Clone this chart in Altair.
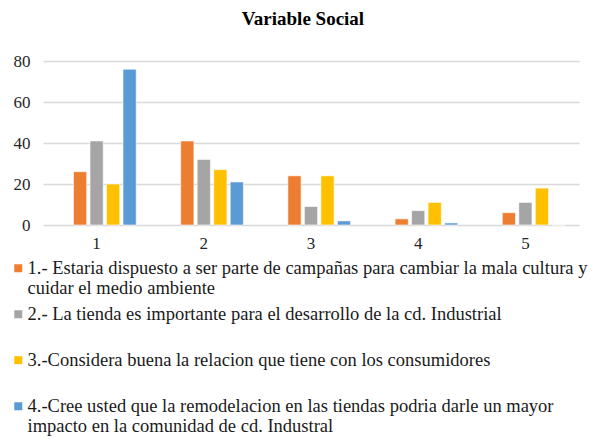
import altair as alt
import pandas as pd

groups = ["1", "2", "3", "4", "5"]
series = [
    "1.-  Estaria dispuesto a ser parte de campañas para cambiar la mala cultura y|cuidar el medio ambiente",
    "2.- La  tienda es importante para el desarrollo de la cd. Industrial| ",
    "3.-Considera buena la relacion que tiene con los consumidores| ",
    "4.-Cree usted que la remodelacion en las tiendas podria darle un mayor|impacto en la comunidad de cd. Industral",
]
values = [
    [26, 41, 24, 3, 6],
    [41, 32, 9, 7, 11],
    [20, 27, 24, 11, 18],
    [76, 21, 2, 1, 0],
]
colors = ["#ED7D31", "#A5A5A5", "#FFC000", "#5B9BD5"]
y_ticks = [0, 20, 40, 60, 80]
# the source chart reserves an empty first slot in every group
offset_slots = ["(vacío)"] + series

rows = []
for si, s in enumerate(series):
    for gi, g in enumerate(groups):
        rows.append({"grupo": g, "serie": s, "valor": values[si][gi]})
df = pd.DataFrame(rows)

FONT = "Liberation Serif"

chart = alt.Chart(df).mark_bar(stroke="white", strokeWidth=0.6).encode(
    x=alt.X("grupo:N", sort=groups, title=None,
            scale=alt.Scale(paddingInner=0.23, paddingOuter=0.115),
            axis=alt.Axis(labelAngle=0, ticks=False, domain=False, labelPadding=10,
                          labelFont=FONT, labelFontSize=17, labelColor="#262626")),
    xOffset=alt.XOffset("serie:N",
                        scale=alt.Scale(domain=offset_slots, paddingInner=0.2, paddingOuter=0.1)),
    y=alt.Y("valor:Q", title=None,
            scale=alt.Scale(domain=[0, 80], nice=False),
            axis=alt.Axis(values=y_ticks, ticks=False, domain=False, labelPadding=13,
                          gridColor="#D9D9D9", gridWidth=1.5,
                          labelFont=FONT, labelFontSize=17, labelColor="#262626")),
    color=alt.Color("serie:N", sort=series,
                    scale=alt.Scale(domain=series, range=colors),
                    legend=alt.Legend(
                        title=None, orient="none", direction="vertical",
                        legendX=-34, legendY=198, padding=0,
                        symbolType="square", symbolSize=64, symbolStrokeWidth=0,
                        labelFont=FONT, labelFontSize=18.5, labelColor="#1a1a1a",
                        labelLimit=0, labelOffset=0, rowPadding=7,
                        labelExpr="split(datum.label, '|')")),
).properties(
    width=536, height=164,
    title=alt.TitleParams("Variable Social", font=FONT, fontSize=19, fontWeight="bold",
                          color="#000000", offset=23, dx=-8),
    autosize=alt.AutoSizeParams(type="none"),
    padding={"left": 35, "top": 53, "right": 14, "bottom": 215},
).configure(view={"stroke": None}, style={"guide-label": {"lineHeight": 20}})

chart.save("out.html", embed_options={"renderer": "svg", "actions": False})
